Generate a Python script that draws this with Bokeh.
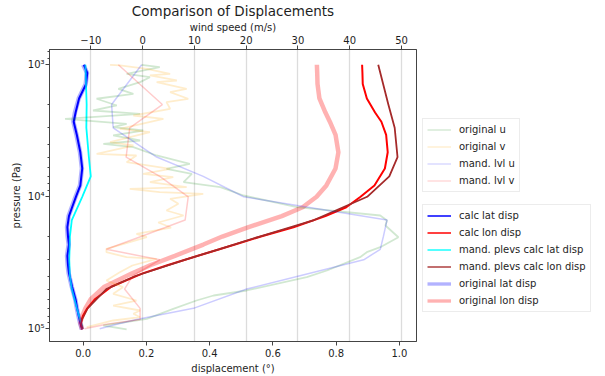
from bokeh.plotting import figure
from bokeh.layouts import row
from bokeh.models import (Range1d, LinearAxis, FixedTicker, Legend, LegendItem,
                          CustomJSTickFormatter, PrintfTickFormatter)
from bokeh.embed import file_html
from bokeh.resources import INLINE

# ---- displacement profiles (degrees) on the sounding pressure grid (Pa)
disp_p = [1000, 1150, 1400, 1800, 2300, 2700, 3400, 4600, 6100, 8200, 10000, 12000,
          14000, 17000, 20000, 23000, 28000, 33000, 38000, 48000, 60000, 70000,
          80000, 90000, 101000]
calc_lat = [0.002, 0.013, 0.009, -0.013, -0.024, -0.030, -0.020, -0.009, -0.003,
            -0.009, -0.023, -0.035, -0.045, -0.050, -0.048, -0.045, -0.050, -0.048,
            -0.045, -0.035, -0.024, -0.019, -0.014, -0.009, -0.003]
calc_lon = [0.882, 0.883, 0.884, 0.897, 0.923, 0.943, 0.958, 0.963, 0.954, 0.921,
            0.877, 0.832, 0.766, 0.665, 0.562, 0.480, 0.363, 0.266, 0.188, 0.089,
            0.036, 0.013, -0.001, -0.008, -0.003]
orig_lat = [0.000, 0.012, 0.008, -0.014, -0.026, -0.031, -0.021, -0.010, -0.004,
            -0.010, -0.024, -0.036, -0.046, -0.051, -0.049, -0.046, -0.051, -0.049,
            -0.046, -0.036, -0.025, -0.020, -0.015, -0.010, -0.004]
orig_lon = [0.739, 0.740, 0.741, 0.747, 0.766, 0.780, 0.798, 0.807, 0.798, 0.769,
            0.738, 0.694, 0.628, 0.523, 0.440, 0.380, 0.290, 0.212, 0.155, 0.067,
            0.023, 0.007, -0.003, -0.009, -0.003]

# ---- mandatory pressure levels (Pa)
mand_p = [1000, 2000, 3000, 5000, 7000, 10000, 15000, 20000, 25000, 30000, 40000,
          50000, 70000, 85000, 92500, 100000]
mand_calc_lat = [0.007, 0.011, 0.010, 0.018, 0.024, -0.003, -0.036, -0.042, -0.043,
                 -0.044, -0.042, -0.036, -0.020, -0.010, -0.005, -0.002]
mand_calc_lon = [0.933, 0.965, 0.985, 0.994, 0.968, 0.898, 0.730, 0.558, 0.429,
                 0.321, 0.163, 0.073, 0.014, -0.004, -0.007, -0.002]
mand_u = [-0.2, -6.0, -5.7, 2.7, 11.7, 19.5, 47.2, 46.5, 45.9, 42.7, 30.0, 20.1,
          9.8, -1.2, -5.0, -8.3]
mand_v = [-4.7, 3.8, -2.5, -3.2, 3.3, 8.8, 8.2, -0.3, -7.0, 3.3, -2.0, -3.5, -0.5,
          -0.5, -7.0, -11.2]

# ---- original sounding wind components (m/s)
u_p = [1000, 1043, 1170, 1242, 1354, 1520, 1659, 1809, 2034, 2220, 2351, 2566, 2799,
       2970, 3146, 3432, 3746, 3967, 4210, 4866, 5623, 6137, 6696, 7752, 8459, 9777,
       11990, 13860, 15120, 16500, 20240, 24090, 26280, 28680, 36170, 40650, 51260,
       55940, 61050, 70560, 84010, 94410, 101000]
u_orig = [-0.2, 3.3, -3.1, 1.4, -0.5, -4.7, -1.8, -8.9, -5.0, -9.6, -0.5, -15.0, -3.1,
          -5.7, 0.1, -5.7, -0.5, -7.6, -1.8, 2.7, 9.1, 4.6, 9.5, 7.9, 15.0, 19.5,
          29.8, 45.9, 47.2, 46.9, 49.4, 45.9, 43.3, 42.0, 35.6, 31.7, 20.1, 13.7,
          10.4, 5.9, 0.8, -7.6, -3.1]
v_p = [1000, 1012, 1072, 1170, 1205, 1315, 1354, 1520, 1613, 1809, 1920, 2154, 2422,
       2566, 3053, 3240, 3859, 4088, 4723, 4866, 5470, 6137, 6696, 7104, 7752, 8459,
       8698, 9231, 9491, 10356, 11300, 12700, 13860, 15660, 17090, 19070, 20240,
       22080, 24770, 26280, 28680, 29490, 33150, 37460, 43060, 48390, 54300, 61050,
       66620, 72680, 76980, 81680, 86500, 97250]
v_orig = [-6.3, -4.4, 0.8, 5.3, 1.4, 6.6, 2.7, 8.5, 5.3, 8.8, 4.6, 5.3, -1.8, 4.0,
          -4.4, 1.4, -6.3, -1.8, -8.9, -1.2, -3.1, 5.3, 0.1, 5.9, 1.4, 8.5, -2.5, 3.3,
          11.7, 5.3, 6.9, 4.6, 7.9, 3.0, 5.5, -1.2, 0.8, -2.5, -7.0, -7.0, -3.1, 2.7,
          -2.0, -4.5, -7.0, -3.8, -5.7, -1.2, -5.7, -0.5, -1.8, -0.5, -5.7, -10.8]

# ---- axis ticks
wind_ticks = [-10, 0, 10, 20, 30, 40, 50]
disp_ticks = [0.0, 0.2, 0.4, 0.6, 0.8, 1.0]
p_ticks = [1000, 10000, 100000]
p_minor = [800, 900, 2000, 3000, 4000, 5000, 6000, 7000, 8000, 9000,
           20000, 30000, 40000, 50000, 60000, 70000, 80000, 90000]

FONT = "DejaVu Sans"
TXT = "#1e1e1e"
SPINE = "#444444"

p = figure(width=417, height=376, output_backend="svg", toolbar_location=None,
           x_range=Range1d(-18.0, 52.9), y_range=Range1d(124800, 766),
           y_axis_type="log", x_axis_location="above",
           min_border_left=49, min_border_right=1, min_border_top=49,
           min_border_bottom=35, title="Comparison of Displacements")
p.extra_x_ranges = {"disp": Range1d(-0.1065, 1.054)}
p.background_fill_color = "white"
p.border_fill_color = "white"
p.outline_line_color = SPINE
p.outline_line_width = 1

p.title.text_font = FONT
p.title.text_font_size = "13.5px"
p.title.text_font_style = "normal"
p.title.text_color = TXT
p.title.align = "center"
p.title.standoff = 0

wind_axis = p.xaxis[0]
wind_axis.ticker = FixedTicker(ticks=wind_ticks)
wind_axis.formatter = CustomJSTickFormatter(
    code="return tick < 0 ? '\\u2212' + Math.abs(tick) : String(tick);")
wind_axis.axis_label = "wind speed (m/s)"

disp_axis = LinearAxis(x_range_name="disp", ticker=FixedTicker(ticks=disp_ticks),
                       formatter=PrintfTickFormatter(format="%.1f"),
                       axis_label="displacement (°)")
p.add_layout(disp_axis, "below")

p_axis = p.yaxis[0]
p_axis.ticker = FixedTicker(ticks=p_ticks, minor_ticks=p_minor)
p_axis.formatter = CustomJSTickFormatter(code="""
const sup = {3: '\\u00b3', 4: '\\u2074', 5: '\\u2075'};
const e = Math.round(Math.log10(tick));
return '10' + (sup[e] || String(e));
""")
p_axis.axis_label = "pressure (Pa)"

for ax in (wind_axis, disp_axis, p_axis):
    ax.axis_line_color = SPINE
    ax.major_tick_line_color = SPINE
    ax.minor_tick_line_color = SPINE
    ax.major_tick_in = 0
    ax.major_tick_out = 4
    ax.minor_tick_in = 0
    ax.minor_tick_out = 2
    ax.major_label_standoff = 3
    ax.axis_label_standoff = 3
    ax.major_label_text_font = FONT
    ax.major_label_text_font_size = "10px"
    ax.major_label_text_color = TXT
    ax.axis_label_text_font = FONT
    ax.axis_label_text_font_size = "10px"
    ax.axis_label_text_font_style = "normal"
    ax.axis_label_text_color = TXT
wind_axis.major_label_standoff = 2
wind_axis.axis_label_standoff = 0
p_axis.major_label_standoff = 1

p.xgrid.ticker = FixedTicker(ticks=wind_ticks)
p.xgrid.grid_line_color = "#dcdcdc"
p.xgrid.grid_line_width = 1.3
p.ygrid.visible = False

# line styles shared by the plot and the legend panel
styles = {
    "original u": dict(line_color="green", line_alpha=0.18, line_width=1.8),
    "original v": dict(line_color="orange", line_alpha=0.2, line_width=1.8),
    "mand. lvl u": dict(line_color="blue", line_alpha=0.2, line_width=1.5),
    "mand. lvl v": dict(line_color="red", line_alpha=0.2, line_width=1.5),
    "calc lat disp": dict(line_color="blue", line_width=2),
    "calc lon disp": dict(line_color="red", line_width=2),
    "mand. plevs calc lat disp": dict(line_color="cyan", line_width=1.8),
    "mand. plevs calc lon disp": dict(line_color="brown", line_width=1.8),
    "original lat disp": dict(line_color="blue", line_alpha=0.3, line_width=4.5),
    "original lon disp": dict(line_color="red", line_alpha=0.3, line_width=4.5),
}

# displacement profiles (bottom axis)
p.line(calc_lat, disp_p, x_range_name="disp", **styles["calc lat disp"])
p.line(calc_lon, disp_p, x_range_name="disp", **styles["calc lon disp"])
p.line(mand_calc_lat, mand_p, x_range_name="disp", **styles["mand. plevs calc lat disp"])
p.line(mand_calc_lon, mand_p, x_range_name="disp", **styles["mand. plevs calc lon disp"])
p.line(orig_lat, disp_p, x_range_name="disp", **styles["original lat disp"])
p.line(orig_lon, disp_p, x_range_name="disp", **styles["original lon disp"])

# wind components (top axis)
p.line(u_orig, u_p, **styles["original u"])
p.line(v_orig, v_p, **styles["original v"])
p.line(mand_u, mand_p, **styles["mand. lvl u"])
p.line(mand_v, mand_p, **styles["mand. lvl v"])

# legend panel to the right of the axes; its proxy lines sit outside its range
lg = figure(width=188, height=376, output_backend="svg", toolbar_location=None,
            x_range=Range1d(0, 1), y_range=Range1d(0, 1),
            x_axis_location=None, y_axis_location=None, min_border=0)
lg.outline_line_color = None
lg.xgrid.visible = False
lg.ygrid.visible = False
lg.background_fill_color = "white"
lg.border_fill_color = "white"


def make_legend(labels, loc):
    items = []
    for lab in labels:
        st = dict(styles[lab])
        st["line_width"] = st["line_width"] * 0.75
        items.append(LegendItem(label=lab, renderers=[lg.line([-2, -1], [-2, -1], **st)]))
    leg = Legend(items=items, location=loc)
    leg.label_text_font = FONT
    leg.label_text_font_size = "10px"
    leg.label_text_color = TXT
    leg.padding = 4
    leg.spacing = 4
    leg.margin = 0
    leg.glyph_width = 24
    leg.glyph_height = 13
    leg.label_height = 13
    leg.label_standoff = 8
    leg.border_line_color = "#dadada"
    leg.background_fill_color = "white"
    leg.background_fill_alpha = 0.85
    return leg


lg.add_layout(make_legend(["original u", "original v", "mand. lvl u", "mand. lvl v"],
                          (5, 149)))
lg.add_layout(make_legend(["calc lat disp", "calc lon disp",
                           "mand. plevs calc lat disp", "mand. plevs calc lon disp",
                           "original lat disp", "original lon disp"], (5, 29)))

layout = row(p, lg, spacing=0)
open("out.html", "w").write(file_html(layout, INLINE))
